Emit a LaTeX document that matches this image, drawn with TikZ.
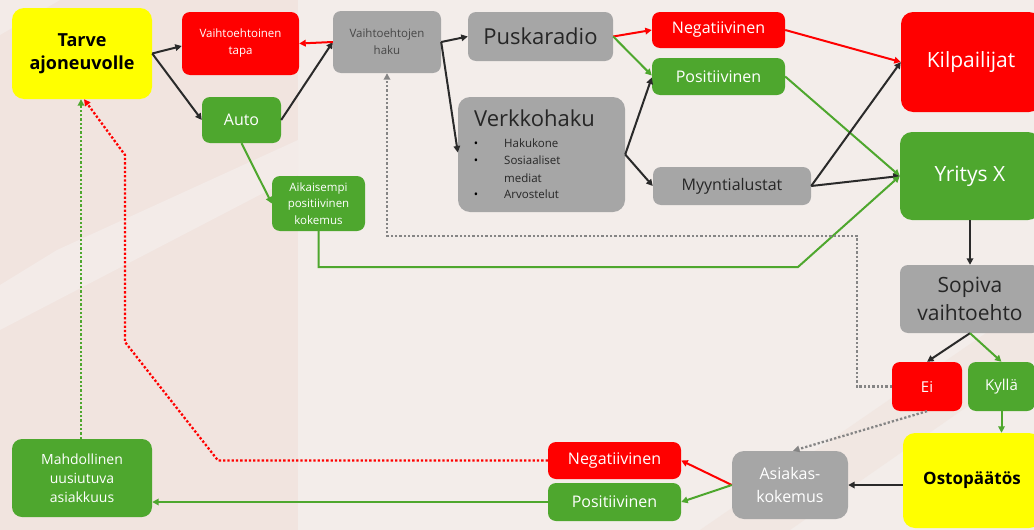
\documentclass[tikz,border=0pt]{standalone}
\usepackage{fontspec}
\setmainfont{Open Sans}
\usetikzlibrary{arrows.meta}
\definecolor{boxred}{HTML}{FF0000}
\definecolor{boxgreen}{HTML}{4EA72E}
\definecolor{boxgray}{HTML}{A6A6A6}
\definecolor{boxyellow}{HTML}{FFFF00}
\definecolor{darktext}{HTML}{262626}
\definecolor{linedark}{HTML}{2A2A2A}
\definecolor{dotgray}{HTML}{858585}
\definecolor{bgbase}{HTML}{F3EDEA}
\definecolor{bgpink}{HTML}{F1E4DF}
\definecolor{bglight}{HTML}{F3EBE8}
\newcommand{\boxfont}[2]{\fontsize{#1}{#2}\selectfont}
\begin{document}
\begin{tikzpicture}[x=1pt,y=-1pt,
    box/.style={rounded corners=8pt,inner sep=2pt,align=center},
    redbox/.style={box,fill=boxred,text=white},
    greenbox/.style={box,fill=boxgreen,text=white},
    graybox/.style={box,fill=boxgray,text=darktext},
    yellowbox/.style={box,rounded corners=12pt,fill=boxyellow,text=black},
    link/.style={line width=2pt,-{Triangle[length=6.5pt,width=6.5pt]}},
    dotlink/.style={line width=2.3pt,dotted,-{Triangle[length=6.5pt,width=6.5pt]}}]
    \clip (0,0) rectangle (1034,530);
    \fill[bgbase] (0,0) rectangle (1034,530);
    \fill[bgpink] (0,0) rectangle (298,530);
    \fill[bglight] (0,0) -- (60,0) -- (0,35) -- cycle;
    \fill[bglight] (57,250) -- (298,140) -- (298,175) -- (0,330) -- (0,285) -- cycle;
    \fill[bgpink!70!bgbase] (700,530) -- (1034,300) -- (1034,360) -- (790,530) -- cycle;

    \node[yellowbox,minimum width=140pt,minimum height=91pt,font=\boxfont{18}{23}\bfseries] (tarve) at (82,53.5) {Tarve\\ajoneuvolle};
    \node[redbox,minimum width=117pt,minimum height=63pt,font=\boxfont{11.5}{17}] (tapa) at (240.5,43.5) {Vaihtoehtoinen\\tapa};
    \node[greenbox,minimum width=79pt,minimum height=46pt,font=\boxfont{16}{20}] (auto) at (241.5,120) {Auto};
    \node[graybox,text=darktext!85!white,minimum width=108pt,minimum height=62pt,font=\boxfont{11.5}{17}] (haku) at (387,42) {Vaihtoehtojen\\haku};
    \node[greenbox,minimum width=93pt,minimum height=55pt,font=\boxfont{11.5}{16.5}] (aik) at (318.5,203.5) {Aikaisempi\\positiivinen\\kokemus};
    \node[graybox,minimum width=145pt,minimum height=49pt,font=\boxfont{22}{26}] (puska) at (540.5,36.5) {Puskaradio};
    \node[graybox,rounded corners=12pt,minimum width=167pt,minimum height=115pt] (verk) at (541.5,154.5) {};
    \node[anchor=base west,inner sep=0pt,text=darktext,font=\boxfont{22}{26}] (verkotsikko) at (474,126) {Verkkohaku};
    \foreach \y/\nimi/\teksti in {147/hakukone/Hakukone,164/sosiaaliset/Sosiaaliset,182/mediat/mediat,198/arvostelut/Arvostelut}
        \node[anchor=base west,inner sep=0pt,text=darktext,font=\boxfont{11.5}{14}] (\nimi) at (504,\y) {\teksti};
    \foreach \y/\nimi in {147/luoti1,164/luoti2,198/luoti3}
        \node[anchor=base,inner sep=0pt,text=black,font=\boxfont{11.5}{14}] (\nimi) at (476,\y) {\textbullet};
    \node[redbox,minimum width=133pt,minimum height=36pt,font=\boxfont{16}{19}] (neg1) at (718.5,30) {Negatiivinen};
    \node[greenbox,minimum width=133pt,minimum height=37pt,font=\boxfont{16}{19}] (pos1) at (718.5,76.5) {Positiivinen};
    \node[graybox,minimum width=158pt,minimum height=38pt,font=\boxfont{16}{19}] (myy) at (732,186) {Myyntialustat};
    \node[redbox,rounded corners=12pt,minimum width=140pt,minimum height=100pt,font=\boxfont{21}{25}] (kilp) at (971,62) {Kilpailijat};
    \node[greenbox,rounded corners=12pt,minimum width=140pt,minimum height=88pt,font=\boxfont{21}{25}] (yrit) at (970,176) {Yritys X};
    \node[graybox,minimum width=140pt,minimum height=68pt,font=\boxfont{21}{28}] (sopiva) at (970,299) {Sopiva\\vaihtoehto};
    \node[redbox,minimum width=70pt,minimum height=49pt,font=\boxfont{15}{18}] (ei) at (927,386.5) {Ei};
    \node[greenbox,minimum width=67pt,minimum height=49pt,font=\boxfont{15}{18}] (kylla) at (1001.5,386.5) {Kyllä};
    \node[yellowbox,minimum width=138pt,minimum height=95pt,font=\boxfont{17}{20}\bfseries] (osto) at (972,480.5) {Ostopäätös};
    \node[graybox,text=white,rounded corners=12pt,minimum width=116pt,minimum height=68pt,font=\boxfont{16}{23}] (asiak) at (790,485) {Asiakas-\\kokemus};
    \node[redbox,minimum width=133pt,minimum height=37pt,font=\boxfont{16}{19}] (neg2) at (614.5,460.5) {Negatiivinen};
    \node[greenbox,minimum width=133pt,minimum height=38pt,font=\boxfont{16}{19}] (pos2) at (614.5,502) {Positiivinen};
    \node[greenbox,rounded corners=10pt,minimum width=140pt,minimum height=78pt,font=\boxfont{14}{19}] (mahd) at (82,478) {Mahdollinen\\uusiutuva\\asiakkuus};

    \coordinate (gkulma) at (798,267);
    \coordinate (hkulma) at (857,236);
    \coordinate (rkulma1) at (218,460.5);
    \coordinate (rkulma2) at (125,342);
    \coordinate (rkulma3) at (125,155);

    \draw[link,linedark] (tarve.east) -- ([yshift=-2.5pt]tapa.west);
    \draw[link,linedark] (tarve.east) -- (auto.west);
    \draw[link,linedark] (auto.east) -- (haku.west);
    \draw[link,boxred] (haku.west) -- (tapa.east);
    \draw[link,linedark] (haku.east) -- (puska.west);
    \draw[link,linedark] (haku.east) -- ([yshift=2pt]verk.west);
    \draw[link,boxgreen] (auto.south) -- (aik.west);
    \draw[link,boxred] (puska.east) -- (neg1.west);
    \draw[link,boxgreen] (puska.east) -- ([yshift=1pt]pos1.west);
    \draw[link,linedark] (verk.east) -- ([yshift=-1pt]pos1.west);
    \draw[link,linedark] (verk.east) -- (myy.west);
    \draw[link,boxred] (neg1.east) -- (kilp.west);
    \draw[link,boxgreen] (pos1.east) -- (yrit.west);
    \draw[link,linedark] (myy.east) -- (kilp.west);
    \draw[link,linedark] (myy.east) -- (yrit.west);
    \draw[link,boxgreen] (aik.south) |- (gkulma) -- (yrit.west);
    \draw[link,linedark] (yrit.south) -- (sopiva.north);
    \draw[link,linedark] (sopiva.south) -- (ei.north);
    \draw[link,boxgreen] (sopiva.south) -- (kylla.north);
    \draw[link,boxgreen] (kylla.south) -- (kylla.south |- osto.north);
    \draw[link,linedark] (asiak.east -| osto.west) -- (asiak.east);
    \draw[dotlink,dotgray] (ei.south) -- ([xshift=3pt]asiak.north);
    \draw[link,boxred] (asiak.west) -- (neg2.east);
    \draw[link,boxgreen] (asiak.west) -- (pos2.east);
    \draw[link,boxgreen] (pos2.west) -- (pos2.west -| mahd.east);
    \draw[dotlink,boxred] (neg2.west) -- (rkulma1) -- (rkulma2) -- (rkulma3) -- ([xshift=2pt]tarve.south);
    \draw[dotlink,boxgreen] ([xshift=-1pt]mahd.north) -- ([xshift=-1pt]tarve.south);
    \draw[dotlink,dotgray] (ei.west) -| (hkulma) -| (haku.south);
\end{tikzpicture}
\end{document}
